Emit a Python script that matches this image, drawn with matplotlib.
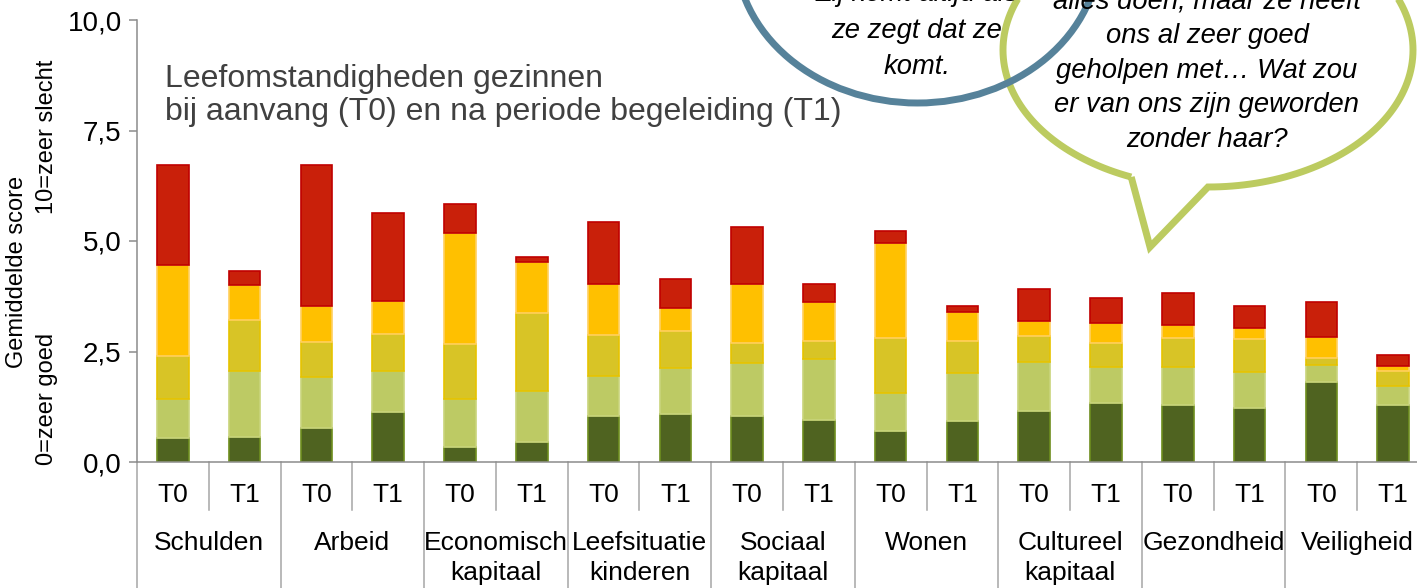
import matplotlib
matplotlib.use("Agg")
import matplotlib.pyplot as plt
import numpy as np
from matplotlib.patches import Ellipse, PathPatch
from matplotlib.path import Path

plt.rcParams['font.family'] = ['Liberation Sans', 'DejaVu Sans']

# categories, two measurements each (T0 / T1)
categories = ["Schulden", "Arbeid", "Economisch\nkapitaal", "Leefsituatie\nkinderen",
              "Sociaal\nkapitaal", "Wonen", "Cultureel\nkapitaal", "Gezondheid", "Veiligheid"]
periods = ["T0", "T1"] * len(categories)

# stacked segments, bottom to top
dark_green  = [0.55, 0.57, 0.76, 1.14, 0.34, 0.46, 1.03, 1.09, 1.03, 0.94, 0.70, 0.93, 1.15, 1.33, 1.30, 1.22, 1.81, 1.30]
light_green = [0.88, 1.49, 1.16, 0.93, 1.09, 1.15, 0.92, 1.03, 1.20, 1.40, 0.85, 1.08, 1.12, 0.81, 0.86, 0.82, 0.39, 0.42]
olive       = [0.97, 1.15, 0.79, 0.82, 1.24, 1.75, 0.92, 0.84, 0.47, 0.40, 1.26, 0.73, 0.58, 0.55, 0.65, 0.75, 0.16, 0.33]
orange      = [2.06, 0.79, 0.82, 0.76, 2.50, 1.17, 1.16, 0.53, 1.32, 0.87, 2.14, 0.66, 0.33, 0.46, 0.30, 0.24, 0.47, 0.12]
red         = [2.27, 0.33, 3.19, 1.98, 0.66, 0.10, 1.40, 0.64, 1.30, 0.41, 0.28, 0.13, 0.74, 0.57, 0.71, 0.49, 0.79, 0.25]

yticks = [0, 2.5, 5, 7.5, 10]

series = [dark_green, light_green, olive, orange, red]
fills = ['#4F6320', '#BDCA64', '#D8C426', '#FFC000', '#C9200A']
edges = ['#6E8E1E', '#C9D47C', '#E6C300', '#FFD060', '#C00000']

W, H = 1417, 588
fig = plt.figure(figsize=(W / 100, H / 100), dpi=100)
ax = fig.add_axes([137 / W, (H - 462) / H, 1292 / W, 442 / H])

x = np.arange(len(periods))
bottom = np.zeros(len(periods))
for vals, fc, ec in zip(series, fills, edges):
    ax.bar(x, vals, 0.44, bottom=bottom, color=fc, edgecolor=ec, linewidth=1.2)
    bottom += np.array(vals)

ax.set_xlim(-0.5, len(periods) - 0.5)
ax.set_ylim(0, 10)
ax.set_yticks(yticks)
ax.set_yticklabels([f"{v:.1f}".replace(".", ",") for v in yticks], fontsize=20)
ax.set_xticks([])
for s in ['top', 'right']:
    ax.spines[s].set_visible(False)
for s in ['left', 'bottom']:
    ax.spines[s].set_color('#8C8C8C')
    ax.spines[s].set_linewidth(1.1)
ax.tick_params(axis='y', length=6, width=1.1, color='#8C8C8C', pad=5)

# two-level x axis labels with separators
tr = ax.get_xaxis_transform()
for k in range(len(periods) + 1):
    low = -0.285 if k % 2 == 0 else -0.1086
    ax.plot([k - 0.5, k - 0.5], [0, low], transform=tr, color='#A6A6A6',
            lw=1.1, clip_on=False)
for i, p in enumerate(periods):
    ax.text(i, -0.0905, p, transform=tr, ha='center', va='baseline', fontsize=19)
for j, c in enumerate(categories):
    for n, line in enumerate(c.split("\n")):
        ax.text(2 * j + 0.5, -0.199 - 0.068 * n, line, transform=tr,
                ha='center', va='baseline', fontsize=19)

# overlay in pixel coordinates for title, axis title and speech bubbles
ov = fig.add_axes([0, 0, 1, 1])
ov.set_xlim(0, W)
ov.set_ylim(H, 0)
ov.axis('off')

ov.text(165, 87, "Leefomstandigheden gezinnen", fontsize=23, color='#404040', va='baseline')
ov.text(165, 120, "bij aanvang (T0) en na periode begeleiding (T1)", fontsize=23,
        color='#404040', va='baseline')

ov.text(17, 272, "Gemiddelde score", rotation=90, ha='center', va='center', fontsize=17)
ov.text(47, 137, "10=zeer slecht", rotation=90, ha='center', va='center', fontsize=17)
ov.text(47, 399, "0=zeer goed", rotation=90, ha='center', va='center', fontsize=17)

# green speech bubble with tail
cx, cy, a, b = 1208, 50, 205, 137
t = np.radians(np.linspace(112, 450, 200))
pts = list(zip(cx + a * np.cos(t), cy + b * np.sin(t)))
pts += [(1150, 247), pts[0]]
codes = [Path.MOVETO] + [Path.LINETO] * (len(pts) - 2) + [Path.CLOSEPOLY]
ov.add_patch(PathPatch(Path(pts, codes), fill=False, ec='#BCCB60', lw=5, joinstyle='miter'))

# blue speech bubble
ov.add_patch(Ellipse((917.5, -50), 364, 306, fill=False, ec='#56829A', lw=5))

blue_lines = ["Zij komt altijd als", "ze zegt dat ze", "komt."]
for n, line in enumerate(blue_lines):
    ov.text(917, 1 + 36.5 * n, line, ha='center', va='baseline', fontsize=19.7, style='italic')

green_lines = ["alles doen, maar ze heeft", "ons al zeer goed", "geholpen met\u2026 Wat zou",
               "er van ons zijn geworden", "zonder haar?"]
for n, line in enumerate(green_lines):
    ov.text(1207, 8 + 34.8 * n, line, ha='center', va='baseline', fontsize=19.7, style='italic')

fig.savefig("out.png", dpi=100)
